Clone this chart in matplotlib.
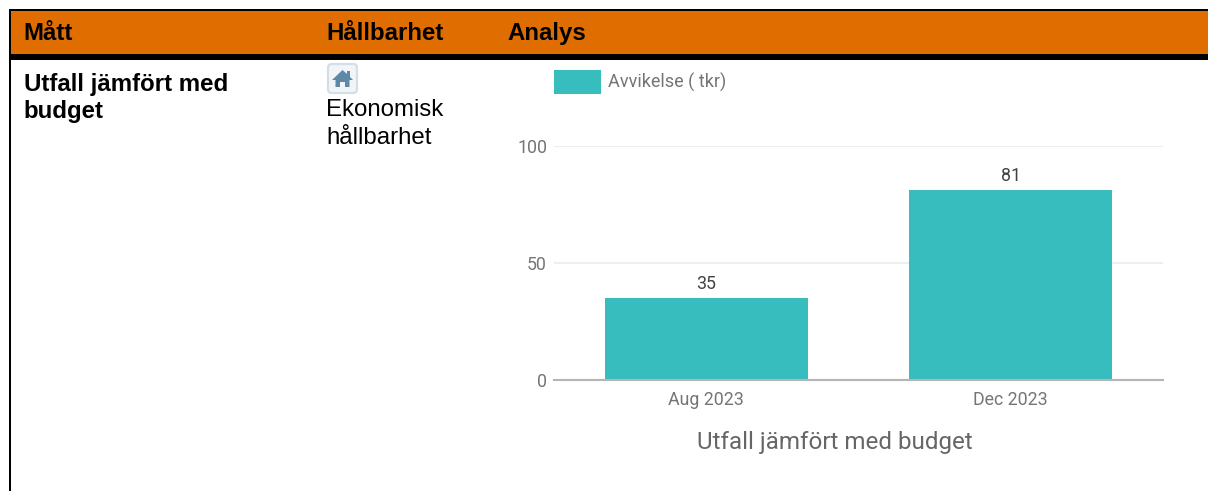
import matplotlib
matplotlib.use('Agg')
import matplotlib.pyplot as plt
from matplotlib.patches import FancyBboxPatch, Polygon, Rectangle

W, H = 1208, 491

months = ['Aug 2023', 'Dec 2023']
deviation = [35, 81]
y_ticks = [0, 50, 100]
series_name = 'Avvikelse ( tkr)'
chart_title = 'Utfall jämfört med budget'
headers = ['Mått', 'Hållbarhet', 'Analys']
header_x = [23.5, 326.5, 507.5]
row_label = ['Utfall jämfört med', 'budget']
row_label_y = [84, 111]
row_category = ['Ekonomisk', 'hållbarhet']
row_category_y = [110, 137.5]

fig = plt.figure(figsize=(W / 100, H / 100), dpi=100)

# table frame, drawn in pixel coordinates
page = fig.add_axes([0, 0, 1, 1])
page.set_xlim(0, W)
page.set_ylim(H, 0)
page.axis('off')
page.add_patch(Rectangle((9, 9), W - 9, 2, color='black', lw=0))
page.add_patch(Rectangle((9, 9), 2, H - 9, color='black', lw=0))
page.add_patch(Rectangle((11, 11), W - 11, 43, color='#DF6D00', lw=0))
page.add_patch(Rectangle((9, 54), W - 9, 6, color='black', lw=0))

for name, x in zip(headers, header_x):
    page.text(x, 33.5, name, family='Liberation Sans', weight='bold', fontsize=17.3,
              color='black', va='center', ha='left')
for line, y in zip(row_label, row_label_y):
    page.text(23.5, y, line, family='Liberation Sans', weight='bold', fontsize=17.3,
              color='black', va='center', ha='left')
for line, y in zip(row_category, row_category_y):
    page.text(326.5, y, line, family='Liberation Sans', fontsize=17.3,
              color='black', va='center', ha='left')

# house icon
page.add_patch(FancyBboxPatch((328, 64), 29, 29, boxstyle='round,pad=0,rounding_size=4',
                              fc='#F2F5F8', ec='#D3DEE6', lw=1.6))
page.add_patch(Polygon([(332, 80), (342.5, 70), (347, 74), (347, 71), (350, 71), (350, 77),
                        (353, 80), (349.5, 80), (349.5, 87), (345, 87), (345, 82), (340, 82),
                        (340, 87), (335.5, 87), (335.5, 80)],
                       fc='#5F87A6', ec='none'))

# chart
left, right, top, bottom = 554, 1163, 146, 380
ax = fig.add_axes([left / W, 1 - bottom / H, (right - left) / W, (bottom - top) / H])
bars = ax.bar(months, deviation, width=0.667, color='#38BDBE', label=series_name, zorder=2)
ax.set_xlim(-0.5, 1.5)
ax.set_ylim(0, 100)
ax.set_yticks(y_ticks)
ax.grid(axis='y', color='#EBEFF3', lw=1.5, zorder=0)
ax.set_axisbelow(True)
for s in ['top', 'left', 'right']:
    ax.spines[s].set_visible(False)
ax.spines['bottom'].set_color('#B5B5B5')
ax.spines['bottom'].set_linewidth(1.5)
ax.tick_params(axis='both', length=0, labelcolor='#757575', labelsize=12.8)
ax.tick_params(axis='x', pad=8.2)
ax.tick_params(axis='y', pad=5)
for lab in ax.get_xticklabels() + ax.get_yticklabels():
    lab.set_family('Roboto')
for b, v in zip(bars, deviation):
    ax.annotate(str(v), (b.get_x() + b.get_width() / 2, v), xytext=(0, 4),
                textcoords='offset points', ha='center', va='bottom',
                family='Roboto', fontsize=12.8, color='#424242')

# legend and title
page.add_patch(Rectangle((554, 70), 47, 24, color='#38BDBE', lw=0))
page.text(608, 82, series_name, family='Roboto', fontsize=13, color='#757575',
          va='center', ha='left')
page.text(834.5, 442, chart_title, family='Roboto', fontsize=17.4, color='#666666',
          va='center', ha='center')

fig.savefig('out.png', dpi=100)
